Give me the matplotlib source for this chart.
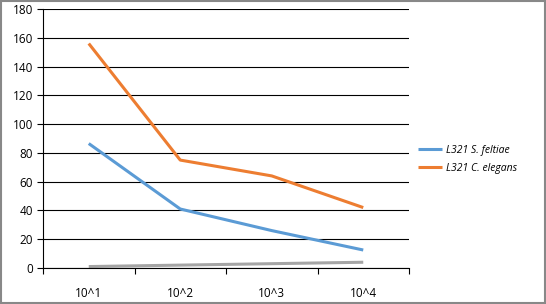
import matplotlib.pyplot as plt
from matplotlib.patches import Rectangle

# data
categories = ['10^1', '10^2', '10^3', '10^4']
s_feltiae = [86.5, 41, 26, 12.5]
c_elegans = [156, 75, 64, 42]
control = [1, 2, 3, 4]

plt.rcParams['font.family'] = ['Open Sans', 'DejaVu Sans']

fig = plt.figure(figsize=(5.46, 3.04), dpi=100)
ax = fig.add_axes([43 / 546, 36 / 304, 366 / 546, 259 / 304])

x = list(range(len(categories)))
ax.plot(x, s_feltiae, color='#5b9bd5', lw=2.2, label='L321 S. feltiae', solid_capstyle='butt')
ax.plot(x, c_elegans, color='#ed7d31', lw=2.2, label='L321 C. elegans', solid_capstyle='butt')
ax.plot(x, control, color='#a5a5a5', lw=2.2, solid_capstyle='butt')

ax.set_xlim(-0.5, len(categories) - 0.5)
ax.set_ylim(0, 180)
ax.set_yticks(range(0, 181, 20))
ax.set_xticks(x)
ax.set_xticklabels(categories)
ax.set_xticks([i + 0.5 for i in range(-1, len(categories))], minor=True)
ax.tick_params(axis='x', which='major', length=0, pad=14, labelsize=8.5)
ax.tick_params(axis='x', which='minor', length=4, width=0.8, direction='out')
ax.tick_params(axis='y', length=4, width=0.8, labelsize=8.5, pad=3)

ax.grid(axis='y', color='black', lw=0.8)
ax.set_axisbelow(True)
for side in ['top', 'right']:
    ax.spines[side].set_visible(False)
ax.spines['left'].set_linewidth(0.8)
ax.spines['bottom'].set_linewidth(0.8)

leg = ax.legend(loc='center left', bbox_to_anchor=(1.0, 0.42), frameon=False,
                prop={'style': 'italic', 'size': 7.5}, handlelength=2.3,
                handletextpad=0.4, labelspacing=0.7)

# light grey border around the whole picture
fig.patches.append(Rectangle((0.001, 0.002), 0.997, 0.995, transform=fig.transFigure,
                             fill=False, edgecolor='#888888', lw=1.5))

fig.savefig('out.png', dpi=100)
